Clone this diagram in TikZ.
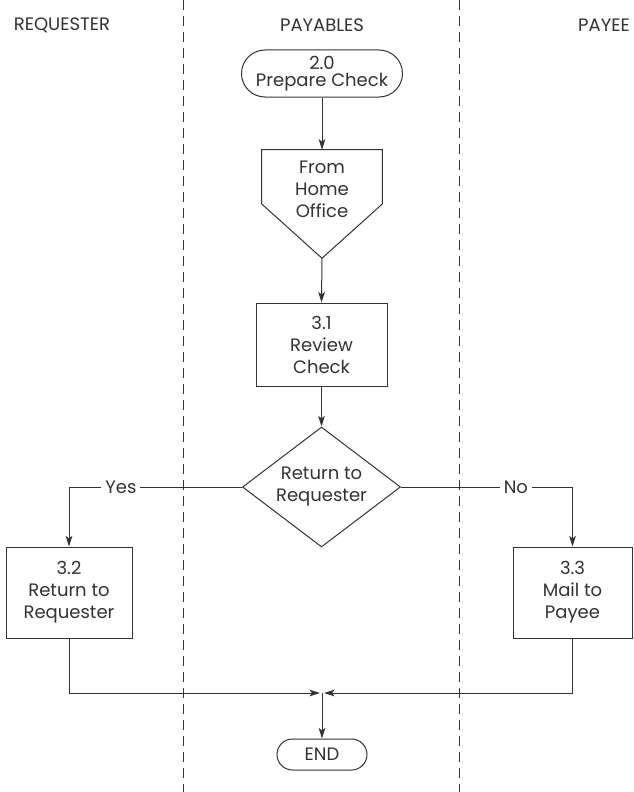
\documentclass[tikz,border=0pt]{standalone}
\usepackage{fontspec}
\setmainfont{Poppins}
\usetikzlibrary{arrows.meta,shapes.geometric,shapes.misc}
\definecolor{tinta}{HTML}{333333}

\begin{document}
\begin{tikzpicture}[x=0.75pt, y=-0.75pt, >={Stealth[length=8pt,width=5pt,inset=2pt]},
  every node/.style={text=tinta, font=\fontsize{13.5}{16.5}\selectfont},
  linea/.style={draw=tinta, line width=0.75pt},
  carril/.style={draw=tinta, line width=0.7pt, dash pattern=on 7.5pt off 4.5pt},
  terminal/.style={linea, rounded rectangle, align=center, inner sep=0pt},
  proceso/.style={linea, rectangle, align=center, inner sep=0pt},
  decision/.style={linea, diamond, aspect=1.3, align=center, inner sep=0pt},
  rotulo/.style={fill=white, inner sep=3pt}]
  \useasboundingbox (0,0) rectangle (633,792);
  \fill[white] (0,0) rectangle (633,792);

  % Carriles
  \node (hreq) at (62,25) {REQUESTER};
  \node (hpay) at (322,25) {PAYABLES};
  \node (hpee) at (604,25) {PAYEE};
  \draw[carril] (183,0) -- (183,792);
  \draw[carril] (459,0) -- (459,792);

  % Nodos
  \node[terminal, minimum width=120.75pt, minimum height=35.25pt, font=\fontsize{13.5}{12.5}\selectfont] (inicio) at (322,73.5) {2.0\\Prepare Check};
  \node[minimum width=90pt, minimum height=81pt, inner sep=0pt] (home) at (322,204) {};
  \draw[linea] (home.north west) -- (home.north east) -- (home.east) -- (home.south) -- (home.west) -- cycle;
  \node[align=center] (hometxt) at (322,189) {From\\Home\\Office};
  \node[proceso, minimum width=98.25pt, minimum height=62.25pt] (r31) at (321.5,344.5) {3.1\\Review\\Check};
  \node[decision, minimum width=118.5pt, minimum height=90pt] (dec) at (321.5,487) {Return to\\Requester};
  \node[proceso, minimum width=94.5pt, minimum height=68.25pt] (r32) at (69,592.5) {3.2\\Return to\\Requester};
  \node[proceso, minimum width=89.25pt, minimum height=68.25pt] (r33) at (572.5,592.5) {3.3\\Mail to\\Payee};
  \node[terminal, minimum width=67.5pt, minimum height=23.25pt] (fin) at (322,754.5) {END};
  \coordinate (union) at (322,693);

  % Conectores
  \draw[linea, ->] (inicio.south) -- (home.north);
  \draw[linea, ->] (home.south) -- (r31.north);
  \draw[linea, ->] (r31.south) -- (dec.north);
  \draw[linea, ->] (dec.west) -| node[rotulo, pos=0.35] {Yes} (r32.north);
  \draw[linea, ->] (dec.east) -| node[rotulo, pos=0.335] {No} (r33.north);
  \draw[linea, ->, shorten >=1.5pt] (r32.south) |- (union);
  \draw[linea, ->, shorten >=1.5pt] (r33.south) |- (union);
  \draw[linea, ->] (union) -- (fin.north);
\end{tikzpicture}
\end{document}
